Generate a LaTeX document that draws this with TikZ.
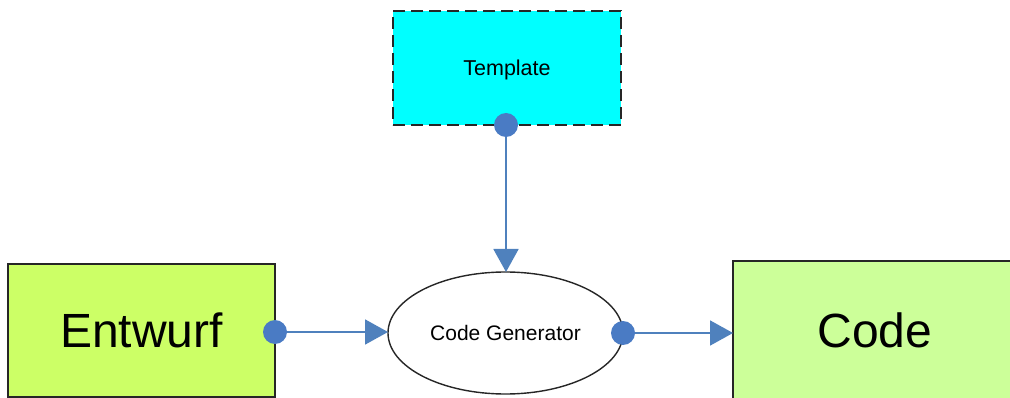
\documentclass[tikz,border=0pt]{standalone}
\usepackage{fontspec}
\setmainfont{Liberation Sans}
\usetikzlibrary{shapes.geometric,arrows.meta}
\definecolor{lineblue}{HTML}{4F81BD}
\definecolor{dotblue}{HTML}{4A7BC4}
\definecolor{greenA}{HTML}{CCFF66}
\definecolor{greenB}{HTML}{CCFF99}
\definecolor{cyanfill}{HTML}{00FFFF}
\tikzset{
  box/.style={draw=black!85, line width=1.4pt, inner sep=0pt},
  conn/.style={draw=lineblue, line width=1.8pt, -{Triangle[length=23pt,width=25pt,color=lineblue]}},
  dot/.style={fill=dotblue},
}
\begin{document}
\begin{tikzpicture}[x=1pt,y=-1pt]
\useasboundingbox (0,0) rectangle (1010,398);
\clip (0,0) rectangle (1010,398);
% boxes
\node[box, fill=greenA, minimum width=267pt, minimum height=133pt, font=\fontsize{48}{50}\selectfont] (entwurf) at (141.5,330.5) {Entwurf};
\node[box, fill=greenB, minimum width=307pt, minimum height=159pt] (code) at (886.5,340.5) {};
\node[font=\fontsize{48}{50}\selectfont, inner sep=0pt] (codetext) at (875,330) {Code};
\node[box, fill=cyanfill, dash pattern=on 12pt off 6pt, minimum width=228pt, minimum height=114pt, text height=17pt, text depth=1pt, font=\fontsize{21.5}{24}\selectfont] (tmpl) at (507,68) {Template};
\node[draw=black!85, line width=1.4pt, fill=white, ellipse, minimum width=235pt, minimum height=122pt, inner sep=0pt, font=\fontsize{21}{24}\selectfont] (gen) at (505.5,333) {Code Generator};
% connectors
\coordinate (eout) at (275,332);
\coordinate (gin) at (388,332);
\coordinate (gout) at (623,333);
\coordinate (cin) at (733,333);
\coordinate (tout) at (506,125);
\coordinate (gtop) at (506,272);
\draw[conn] (eout) -- (gin);
\draw[conn] (gout) -- (cin);
\draw[conn] (tout) -- (gtop);
\fill[dot] (eout) circle (12pt);
\fill[dot] (gout) circle (12pt);
\fill[dot] (tout) circle (12pt);
\end{tikzpicture}
\end{document}
